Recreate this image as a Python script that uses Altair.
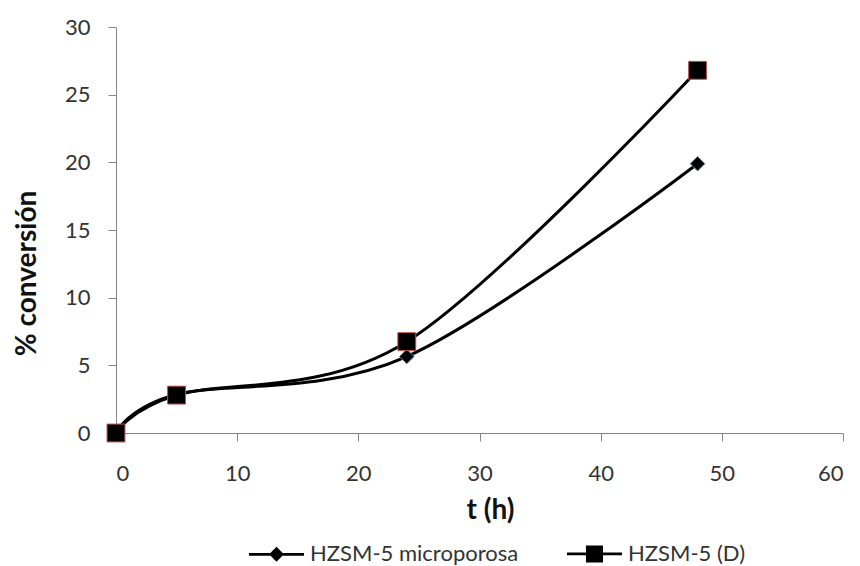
import altair as alt
import pandas as pd

# data
t_hours = [0, 5, 24, 48]
micro = [0, 2.85, 5.65, 19.9]
hzsm_d = [0, 2.8, 6.75, 26.8]
series_names = ["HZSM-5 microporosa", "HZSM-5 (D)"]
x_ticks = [0, 10, 20, 30, 40, 50, 60]
y_ticks = [0, 5, 10, 15, 20, 25, 30]

rows = []
for name, vals in zip(series_names, [micro, hzsm_d]):
    for t, v in zip(t_hours, vals):
        rows.append({"t": t, "conv": v, "series": name})
df = pd.DataFrame(rows)

FONT = "Lato"
AX = "#868686"
TXT = "#333333"

x_enc = alt.X("t:Q", scale=alt.Scale(domain=[0, 60], nice=False),
              axis=alt.Axis(values=x_ticks, title="t (h)", grid=False,
                            domainColor=AX, tickColor=AX, tickSize=8,
                            labelFontSize=22, labelColor=TXT, labelPadding=22,
                            titleFontSize=28, titleFontWeight="bold", titleColor="#111111",
                            titleX=374, titleY=77, titleBaseline="middle"))
y_enc = alt.Y("conv:Q", scale=alt.Scale(domain=[0, 30], nice=False),
              axis=alt.Axis(values=y_ticks, title="% conversión", grid=False,
                            domainColor=AX, tickColor=AX, tickSize=8,
                            labelFontSize=22, labelColor=TXT, labelPadding=18,
                            titleFontSize=28, titleFontWeight="bold", titleColor="#111111",
                            titleX=-89, titleY=246, titleBaseline="middle", titleAngle=-90))

base = alt.Chart(df)

lines = base.mark_line(interpolate="cardinal", strokeWidth=3, color="black").encode(
    x=x_enc, y=y_enc, detail="series:N"
)

points = base.mark_point(filled=True, fill="black", strokeWidth=1, opacity=1).encode(
    x="t:Q", y="conv:Q",
    shape=alt.Shape("series:N", scale=alt.Scale(domain=series_names, range=["diamond", "square"]), legend=None),
    size=alt.Size("series:N", scale=alt.Scale(domain=series_names, range=[210, 320]), legend=None),
    stroke=alt.Stroke("series:N", scale=alt.Scale(domain=series_names, range=["#4F81BD", "#C0504D"]), legend=None),
)

legend_paths = [
    "M-1,-0.05H1V0.05H-1ZM0,-0.27L0.27,0L0,0.27L-0.27,0Z",
    "M-1,-0.05H1V0.05H-1ZM-0.31,-0.31H0.31V0.31H-0.31Z",
]

legend_layer = base.mark_point(filled=True, fill="black", opacity=1).encode(
    x="t:Q", y="conv:Q",
    shape=alt.Shape("series:N", scale=alt.Scale(domain=series_names, range=legend_paths),
                    legend=alt.Legend(title=None, orient="none", direction="horizontal",
                                      legendX=132, legendY=498,
                                      symbolSize=3025, symbolFillColor="black",
                                      labelFontSize=22, labelColor=TXT, labelFont=FONT,
                                      labelLimit=0, labelOffset=5, columnPadding=45)),
).transform_filter("false")

chart = alt.layer(lines, points, legend_layer).resolve_scale(
    shape="independent"
).properties(
    width=727, height=406,
    autosize=alt.AutoSizeParams(type="none"),
    padding={"left": 108, "top": 19, "right": 9, "bottom": 133},
).configure(font=FONT).configure_view(stroke=None)

chart.save("out.html", embed_options={"renderer": "svg", "actions": False})
